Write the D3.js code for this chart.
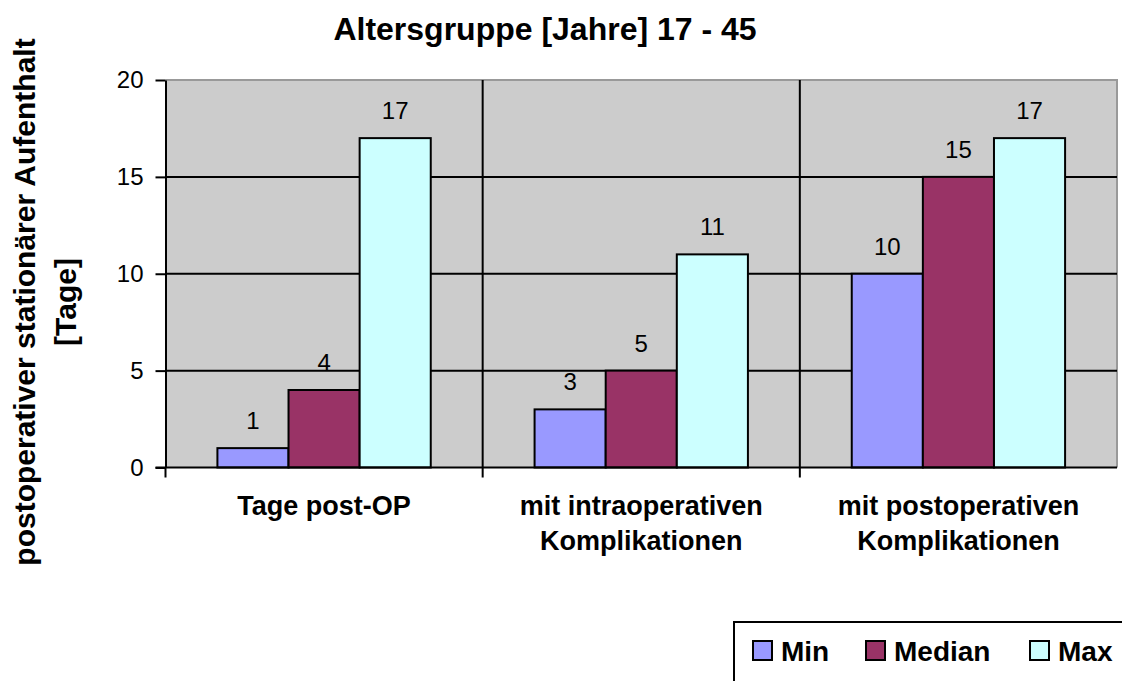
<!DOCTYPE html>
<html>
<head>
<meta charset="utf-8">
<script src="https://cdn.jsdelivr.net/npm/d3@7"></script>
<style>
  body { margin: 0; background: #fff; }
  svg { display: block; font-family: "Liberation Sans", Arial, sans-serif; }
</style>
</head>
<body>
<svg width="1122" height="681"></svg>
<script>
var categories = [["Tage post-OP"], ["mit intraoperativen", "Komplikationen"], ["mit postoperativen", "Komplikationen"]];
var seriesNames = ["Min", "Median", "Max"];
var minValues = [1, 3, 10];
var medianValues = [4, 5, 15];
var maxValues = [17, 11, 17];
var yTicks = [0, 5, 10, 15, 20];
var colors = ["#9999ff", "#993366", "#ccffff"];

var svg = d3.select("svg");
var plotLeft = 165.5, plotRight = 1117, plotTop = 80, plotBottom = 467.5;

var values = [minValues, medianValues, maxValues];
var rows = categories.map(function(c, i) {
  return { label: c, key: i, vals: values.map(function(v) { return v[i]; }) };
});

var x = d3.scaleBand().domain(d3.range(categories.length)).range([plotLeft, plotRight]);
var xs = d3.scaleBand().domain(d3.range(seriesNames.length)).range([0, x.bandwidth()]).paddingInner(0).paddingOuter(0.73);
var y = d3.scaleLinear().domain([0, 20]).range([plotBottom, plotTop]);

// plot background
svg.append("rect")
  .attr("x", plotLeft).attr("y", plotTop)
  .attr("width", plotRight - plotLeft).attr("height", plotBottom - plotTop)
  .attr("fill", "#cccccc");

// top / right border
svg.append("path")
  .attr("d", "M" + plotLeft + "," + plotTop + "H" + plotRight + "V" + plotBottom)
  .attr("fill", "none").attr("stroke", "#999999").attr("stroke-width", 2);

// grid lines
svg.selectAll(".grid").data(yTicks.filter(function(d) { return d > 0 && d < 20; }))
  .enter().append("line")
  .attr("x1", plotLeft).attr("x2", plotRight)
  .attr("y1", function(d) { return y(d); }).attr("y2", function(d) { return y(d); })
  .attr("stroke", "#000").attr("stroke-width", 2);

// category separators
svg.selectAll(".sep").data(d3.range(1, categories.length))
  .enter().append("line")
  .attr("x1", function(d) { return x(d); }).attr("x2", function(d) { return x(d); })
  .attr("y1", plotTop).attr("y2", plotBottom + 10)
  .attr("stroke", "#000").attr("stroke-width", 2);

// bars
var g = svg.selectAll(".grp").data(rows).enter().append("g")
  .attr("transform", function(d) { return "translate(" + x(d.key) + ",0)"; });

g.selectAll("rect").data(function(d) { return d.vals; })
  .enter().append("rect")
  .attr("x", function(d, i) { return xs(i); })
  .attr("y", function(d) { return y(d); })
  .attr("width", xs.bandwidth())
  .attr("height", function(d) { return y(0) - y(d); })
  .attr("fill", function(d, i) { return colors[i]; })
  .attr("stroke", "#000").attr("stroke-width", 2);

g.selectAll("text.val").data(function(d) { return d.vals; })
  .enter().append("text")
  .attr("class", "val")
  .attr("x", function(d, i) { return xs(i) + xs.bandwidth() / 2; })
  .attr("y", function(d) { return y(d) - 19; })
  .attr("text-anchor", "middle")
  .style("font-size", "24px")
  .text(function(d) { return d; });

// y axis
var yAxis = svg.append("g")
  .attr("transform", "translate(" + plotLeft + ",0)")
  .call(d3.axisLeft(y).tickValues(yTicks).tickSize(10).tickPadding(12).tickSizeOuter(0));
yAxis.select(".domain").attr("stroke-width", 2);
yAxis.selectAll(".tick line").attr("stroke-width", 2);
yAxis.selectAll(".tick text").style("font-size", "24px").style("font-family", "Liberation Sans, Arial, sans-serif").attr("fill", "#000");

// x axis line with ticks at boundaries
svg.append("line")
  .attr("x1", plotLeft - 10).attr("x2", plotRight)
  .attr("y1", plotBottom).attr("y2", plotBottom)
  .attr("stroke", "#000").attr("stroke-width", 2);
svg.append("line")
  .attr("x1", plotLeft).attr("x2", plotLeft)
  .attr("y1", plotBottom).attr("y2", plotBottom + 10)
  .attr("stroke", "#000").attr("stroke-width", 2);

// category labels
svg.selectAll(".cat").data(rows).enter().append("text")
  .attr("text-anchor", "middle")
  .style("font-size", "27px").style("font-weight", "bold")
  .attr("transform", function(d) { return "translate(" + (x(d.key) + x.bandwidth() / 2) + ",515)"; })
  .selectAll("tspan").data(function(d) { return d.label; })
  .enter().append("tspan")
  .attr("x", 0)
  .attr("y", function(d, i) { return i * 35; })
  .text(function(d) { return d; });

// title
svg.append("text")
  .attr("x", 545).attr("y", 40)
  .attr("text-anchor", "middle")
  .style("font-size", "32px").style("font-weight", "bold")
  .text("Altersgruppe [Jahre] 17 - 45");

// y axis title
var yt = svg.append("text")
  .attr("transform", "translate(35,302) rotate(-90)")
  .attr("text-anchor", "middle")
  .style("font-size", "30px").style("font-weight", "bold");
yt.append("tspan").attr("x", 0).attr("y", 0).text("postoperativer stationärer Aufenthalt");
yt.append("tspan").attr("x", 0).attr("y", 41).text("[Tage]");

// legend
svg.append("rect")
  .attr("x", 734).attr("y", 622)
  .attr("width", 400).attr("height", 80)
  .attr("fill", "#fff").attr("stroke", "#000").attr("stroke-width", 2);

var legendX = [753, 866, 1030];
var lg = svg.selectAll(".leg").data(seriesNames).enter().append("g")
  .attr("transform", function(d, i) { return "translate(" + legendX[i] + ",641)"; });
lg.append("rect")
  .attr("width", 19).attr("height", 19)
  .attr("fill", function(d, i) { return colors[i]; })
  .attr("stroke", "#000").attr("stroke-width", 2);
lg.append("text")
  .attr("x", 28).attr("y", 20)
  .style("font-size", "28px").style("font-weight", "bold")
  .text(function(d) { return d; });
</script>
</body>
</html>
